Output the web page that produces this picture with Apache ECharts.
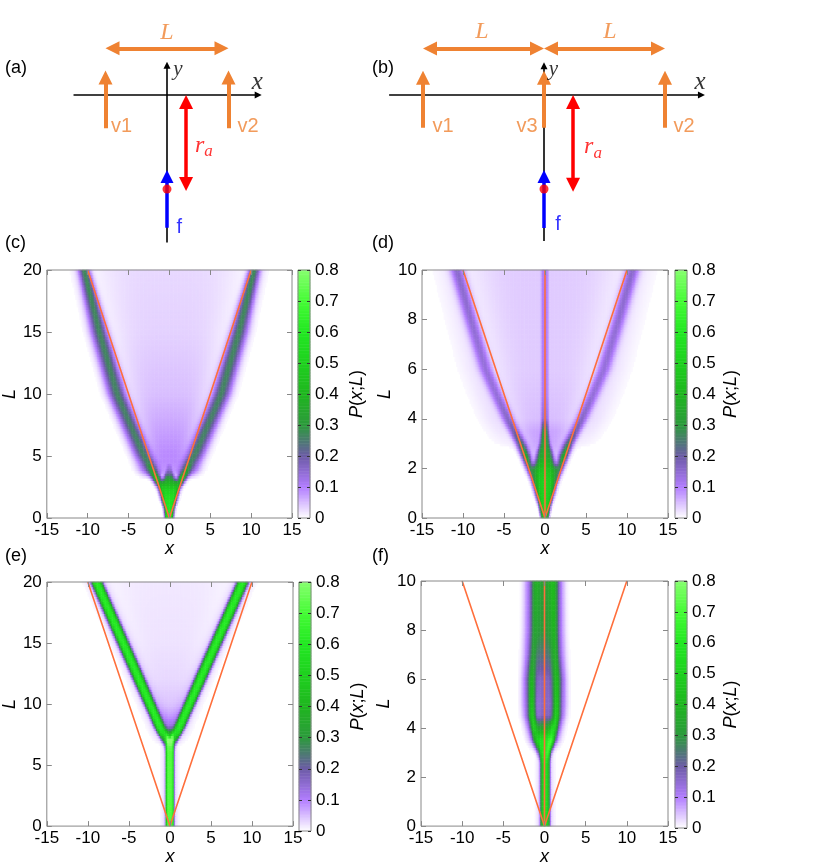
<!DOCTYPE html>
<html>
<head>
<meta charset="utf-8">
<title>P(x;L)</title>
<script src="https://cdn.jsdelivr.net/npm/echarts@6.0.0/dist/echarts.min.js"></script>
<style>
  html, body { margin: 0; padding: 0; background: #fff; }
  #chart { width: 830px; height: 867px; }
</style>
</head>
<body>
<div id="chart"></div>
<script type="text/javascript">
// ---- tick labels ----
var xTicks = [-15, -10, -5, 0, 5, 10, 15];
var barTicks = [0, 0.1, 0.2, 0.3, 0.4, 0.5, 0.6, 0.7, 0.8];
var barColors = ['#ffffff', '#b27dff', '#6c5ba6', '#2c9a3c', '#1fb61f', '#1fd01f', '#22e822', '#45fb35', '#86ff6e'];

// ---- panel (c): ridges, per L knot ----
var cL     = [0,   0.8, 1.5, 2.3, 2.8, 3.3, 3.8, 4.5, 5.2, 8,   10,  15,  20];
var cCoreW = [0.5, 0.6, 0.9, 1.1, 1.0, 0.7, 0.4, 0.2, 0.2, 0.2, 0.2, 0.2, 0.2];
var cCoreV = [0.6, 0.6, 0.58,0.5, 0.4, 0.25,0.08,0,   0,   0,   0,   0,   0];
var cArmX  = [0.2, 0.4, 0.7, 1.0, 1.3, 1.6, 2.0, 2.5, 3.1, 5.0, 6.3, 8.5, 10.4];
var cArmW  = [0.3, 0.3, 0.35,0.4, 0.45,0.55,0.7, 0.8, 0.85,0.9, 0.95,0.9, 0.65];
var cArmV  = [0,   0,   0,   0.12,0.35,0.42,0.3, 0.23,0.22,0.23,0.24,0.25,0.26];
var cShoX  = [0,   0,   0,   0,   0,   2.5, 3.0, 3.4, 3.9, 5.8, 7.1, 9.3, 11.1];
var cShoV  = [0,   0,   0,   0,   0,   0.03,0.09,0.09,0.08,0.05,0.04,0.03,0.02];
var cFillW = [0.1, 0.1, 0.1, 0.1, 0.1, 0.5, 1.4, 1.9, 2.4, 4.0, 5.1, 7.0, 8.9];
var cFillV = [0,   0,   0,   0,   0,   0.04,0.08,0.09,0.09,0.065,0.05,0.035,0.03];
var cLineX = [-10, 0, 10];
var cLineL = [20, 0, 20];

// ---- panel (d) ----
var dL     = [0,   0.5, 1,   1.5, 2,   2.5, 3,   3.5, 4,   5,   6,   8,   10];
var dCoreW = [0.45,0.7, 1.1, 1.3, 1.4, 1.0, 0.6, 0.45,0.45,0.45,0.45,0.45,0.45];
var dCoreV = [0.45,0.5, 0.5, 0.5, 0.45,0.3, 0.25,0.23,0.1, 0.07,0.07,0.07,0.07];
var dArmX  = [0.3, 0.5, 1.0, 1.4, 1.8, 2.3, 2.9, 3.7, 4.5, 5.9, 7.2, 9.0, 10.7];
var dArmW  = [0.3, 0.3, 0.35,0.4, 0.5, 0.55,0.6, 0.65,0.7, 0.75,0.8, 0.8, 0.8];
var dArmV  = [0,   0,   0,   0.1, 0.25,0.35,0.25,0.17,0.14,0.12,0.12,0.13,0.14];
var dHazeX = [0,   0,   0,   0,   0,   0,   4.2, 5.0, 5.8, 7.1, 8.3, 10.0,11.6];
var dHazeV = [0,   0,   0,   0,   0,   0,   0.012,0.02,0.024,0.022,0.02,0.017,0.015];
var dFillW = [0.1, 0.1, 0.1, 0.1, 0.1, 1.8, 2.4, 3.1, 3.8, 5.0, 6.1, 7.6, 9.1];
var dFillV = [0,   0,   0,   0,   0,   0.05,0.07,0.07,0.05,0.045,0.04,0.04,0.04];
var dLineX = [-10, 0, 10];
var dLineL = [10, 0, 10];
var dMidX  = [0, 0];
var dMidL  = [0, 10];

// ---- panel (e) ----
var eL     = [0,   6.0, 6.6, 7.1, 7.6, 8.2, 9,   10,  12,  15,  20];
var eColV  = [0.65,0.65,0.6, 0.45,0.15,0,   0,   0,   0,   0,   0];
var eColHV = [0.07,0.07,0.05,0,   0,   0,   0,   0,   0,   0,   0];
var eArmX  = [0.3, 0.3, 0.35,0.5, 0.85,1.25,1.75,2.4, 3.7, 5.65,8.9];
var eArmW  = [0.3, 0.3, 0.4, 0.5, 0.55,0.6, 0.6, 0.62,0.65,0.65,0.65];
var eArmV  = [0,   0,   0.1, 0.35,0.5, 0.55,0.55,0.55,0.55,0.55,0.55];
var eHaloV = [0,   0,   0,   0.04,0.06,0.06,0.06,0.06,0.06,0.06,0.06];
var eFillW = [0.1, 0.1, 0.1, 0.3, 0.6, 0.9, 1.4, 2.0, 3.1, 4.8, 7.6];
var eFillV = [0,   0,   0,   0.08,0.13,0.1, 0.07,0.045,0.03,0.022,0.018];
var eLineX = [-10, 0, 10];
var eLineL = [20, 0, 20];

// ---- panel (f) ----
var fL     = [0,   2.6, 3.0, 3.5, 4.0, 4.5, 5.0, 6.0, 7.0, 8.0, 10];
var fColW  = [0.55,0.55,0.6, 0.9, 0.95,1.05,1.15,1.2, 1.3, 1.4, 1.45];
var fColV  = [0.5, 0.5, 0.55,0.6, 0.35,0.17,0.16,0.17,0.24,0.3, 0.32];
var fColHV = [0.07,0.07,0.05,0,   0,   0,   0,   0,   0,   0,   0];
var fRidX  = [0.3, 0.3, 0.6, 1.0, 1.2, 1.45,1.5, 1.5, 1.4, 1.3, 1.2];
var fRidW  = [0.3, 0.3, 0.35,0.4, 0.45,0.45,0.45,0.5, 0.5, 0.5, 0.55];
var fRidV  = [0,   0,   0.15,0.35,0.45,0.45,0.42,0.36,0.25,0.18,0.16];
var fRimX  = [0.5, 0.5, 1.0, 1.5, 1.8, 2.1, 2.2, 2.2, 2.1, 2.0, 1.95];
var fRimV  = [0,   0,   0,   0.06,0.08,0.1, 0.1, 0.1, 0.08,0.08,0.08];
var fLineX = [-10, 0, 10];
var fLineL = [10, 0, 10];
var fMidX  = [0, 0];
var fMidL  = [0, 10];

// ---- sketches (a), (b): positions in units of L ----
var aVX = [-0.5, 0.5], aVNames = ['v1', 'v2'];
var aVY = [-0.27, 0.2];          // base, tip
var aSpans = [[-0.5, 0.5]], aSpanY = 0.38;
var aRa = [0.155, 0, -0.78];     // x, top, bottom
var aF = [0, -1.08, -0.61];      // x, tail, tip
var aDot = -0.765;
var aAxX = [-0.76, 0.77], aAxY = [-1.2, 0.27];

var bVX = [-1, 1, 0], bVNames = ['v1', 'v2', 'v3'];
var bVY = [-0.27, 0.2];
var bSpans = [[-1, 0], [0, 1]], bSpanY = 0.385;
var bRa = [0.24, 0, -0.8];
var bF = [0, -1.1, -0.62];
var bDot = -0.777;
var bAxX = [-1.28, 1.33], bAxY = [-1.21, 0.27];

var ORANGE = '#ef8232', LINE = '#ff6f3c';
var FONT = 'Liberation Sans, Arial, sans-serif';
var SERIF = 'Liberation Serif, Times New Roman, serif';

var NX = 180, NY = 100, NB = 160;
var xCats = [], yCats = [], barCats = [], barCells = [];
for (var i = 0; i < NX; i++) xCats.push('' + i);
for (var j = 0; j < NY; j++) yCats.push('' + j);
for (var k = 0; k < NB; k++) { barCats.push('' + k); barCells.push([0, k, (k + 0.5) * barTicks[barTicks.length - 1] / NB]); }

function at(arr, knots, L) {
    if (typeof arr === 'number') return arr;
    if (L <= knots[0]) return arr[0];
    for (var n = 1; n < knots.length; n++) {
        if (L <= knots[n]) {
            var t = (L - knots[n - 1]) / (knots[n] - knots[n - 1]);
            return arr[n - 1] + t * (arr[n] - arr[n - 1]);
        }
    }
    return arr[arr.length - 1];
}

// ridges: {x, w, v, p, m(mirror)}
function cells(knots, Lmax, ridges) {
    var out = [];
    for (var j = 0; j < NY; j++) {
        var L = (j + 0.5) * Lmax / NY;
        var rs = ridges.map(function (r) {
            return { x: at(r.x, knots, L), w: at(r.w, knots, L), v: at(r.v, knots, L), p: r.p, m: r.m };
        });
        for (var i = 0; i < NX; i++) {
            var x = -15 + (i + 0.5) * 30 / NX, s = 0;
            rs.forEach(function (r) {
                if (r.v <= 0) return;
                s += r.v * Math.exp(-Math.pow(Math.abs(x - r.x) / r.w, r.p));
                if (r.m) s += r.v * Math.exp(-Math.pow(Math.abs(x + r.x) / r.w, r.p));
            });
            if (s > 0.005) out.push([i, j, Math.min(s, 0.8)]);
        }
    }
    return out;
}

var cData = cells(cL, 20, [
    { x: 0, w: cCoreW, v: cCoreV, p: 4 },
    { x: cArmX, w: cArmW, v: cArmV, p: 2, m: true },
    { x: cShoX, w: 0.9, v: cShoV, p: 2, m: true },
    { x: 0, w: cFillW, v: cFillV, p: 4 }
]);
var dData = cells(dL, 10, [
    { x: 0, w: dCoreW, v: dCoreV, p: 4 },
    { x: dArmX, w: dArmW, v: dArmV, p: 2, m: true },
    { x: dHazeX, w: 2.0, v: dHazeV, p: 2, m: true },
    { x: 0, w: dFillW, v: dFillV, p: 4 }
]);
var eData = cells(eL, 20, [
    { x: 0.02, w: 0.5, v: eColV, p: 6 },
    { x: 0.02, w: 0.75, v: eColHV, p: 2 },
    { x: eArmX, w: eArmW, v: eArmV, p: 3, m: true },
    { x: eArmX, w: 1.1, v: eHaloV, p: 2, m: true },
    { x: 0, w: eFillW, v: eFillV, p: 4 }
]);
var fData = cells(fL, 10, [
    { x: 0.1, w: fColW, v: fColV, p: 4 },
    { x: 0.1, w: 0.8, v: fColHV, p: 2 },
    { x: fRidX, w: fRidW, v: fRidV, p: 2, m: true },
    { x: fRimX, w: 0.6, v: fRimV, p: 2, m: true }
]);

var option = { animation: false, backgroundColor: '#fff', grid: [], xAxis: [], yAxis: [], series: [], graphic: [], visualMap: [] };
var heatIdx = [];
function push(list, item) { option[list].push(item); return option[list].length - 1; }

function valueAxis(g, pos, ticks, labels, name, gap) {
    var a = {
        type: 'value', gridIndex: g, position: pos, z: 10,
        min: ticks[0], max: ticks[ticks.length - 1], interval: ticks[1] - ticks[0],
        axisLine: { show: false, onZero: false }, splitLine: { show: false },
        axisTick: { show: true, inside: true, length: 5, lineStyle: { color: '#888' } },
        axisLabel: { show: labels, color: '#000', fontSize: 17, fontFamily: FONT, margin: pos === 'bottom' ? 4 : 5 }
    };
    if (name) {
        a.name = name; a.nameLocation = 'middle'; a.nameGap = gap;
        a.nameTextStyle = { color: '#000', fontSize: 18, fontFamily: FONT, fontStyle: 'italic' };
    }
    return a;
}

function colorBar(left, top, height, gap) {
    var g = push('grid', { left: left, top: top, width: 12, height: height, show: true, z: 10, borderColor: '#888', borderWidth: 1, backgroundColor: 'transparent' });
    var xc = push('xAxis', { type: 'category', gridIndex: g, position: 'bottom', data: [''], show: false });
    var yc = push('yAxis', { type: 'category', gridIndex: g, position: 'left', data: barCats, show: false });
    var tick = { show: true, inside: true, length: 3, lineStyle: { color: '#333' } };
    push('yAxis', {
        type: 'value', gridIndex: g, position: 'right', z: 10, min: 0, max: 0.8, interval: 0.1,
        axisLine: { show: false, onZero: false }, splitLine: { show: false }, axisTick: tick,
        axisLabel: { color: '#000', fontSize: 17, fontFamily: FONT, margin: 5 },
        name: '{i|P}({i|x};{i|L})', nameLocation: 'middle', nameGap: gap,
        nameTextStyle: { color: '#000', fontSize: 18, fontFamily: FONT, rich: { i: { fontSize: 18, fontFamily: FONT, fontStyle: 'italic', color: '#000' } } }
    });
    push('yAxis', {
        type: 'value', gridIndex: g, position: 'left', z: 10, min: 0, max: 0.8, interval: 0.1,
        axisLine: { show: false, onZero: false }, splitLine: { show: false }, axisTick: tick, axisLabel: { show: false }
    });
    heatIdx.push(push('series', { type: 'heatmap', xAxisIndex: xc, yAxisIndex: yc, data: barCells, progressive: 0, silent: true }));
}

function heatPanel(box, barLeft, yTicks, data, lines, lGap, pGap) {
    var g = push('grid', { left: box[0], top: box[1], width: box[2], height: box[3], show: true, z: 10, borderColor: '#888', borderWidth: 1, backgroundColor: 'transparent' });
    var xc = push('xAxis', { type: 'category', gridIndex: g, position: 'bottom', data: xCats, show: false });
    var yc = push('yAxis', { type: 'category', gridIndex: g, position: 'left', data: yCats, show: false });
    var xv = push('xAxis', valueAxis(g, 'bottom', xTicks, true, 'x', 18));
    push('xAxis', valueAxis(g, 'top', xTicks, false));
    var yv = push('yAxis', valueAxis(g, 'left', yTicks, true, 'L', lGap));
    push('yAxis', valueAxis(g, 'right', yTicks, false));
    heatIdx.push(push('series', { type: 'heatmap', xAxisIndex: xc, yAxisIndex: yc, data: data, progressive: 0, silent: true }));
    lines.forEach(function (ln) {
        push('series', {
            type: 'line', xAxisIndex: xv, yAxisIndex: yv, silent: true, z: 5, symbol: 'none',
            data: ln[0].map(function (x, n) { return [x, ln[1][n]]; }),
            lineStyle: { color: LINE, width: 1.6 }
        });
    });
    colorBar(barLeft, box[1], box[3], pGap);
}

heatPanel([45, 270, 247, 248], 298, [0, 5, 10, 15, 20], cData, [[cLineX, cLineL]], 22, 38);
heatPanel([422, 270, 246, 248], 675, [0, 2, 4, 6, 8, 10], dData, [[dLineX, dLineL], [dMidX, dMidL]], 19, 35);
heatPanel([45, 582, 248, 249], 299, [0, 5, 10, 15, 20], eData, [[eLineX, eLineL]], 22, 38);
heatPanel([421, 581, 247, 247], 675, [0, 2, 4, 6, 8, 10], fData, [[fLineX, fLineL], [fMidX, fMidL]], 19, 35);

option.visualMap.push({ type: 'continuous', show: false, min: 0, max: 0.8, seriesIndex: heatIdx, inRange: { color: barColors } });

// ---- sketches ----
function sketchGrid(origin, scale, xr, yr) {
    var g = push('grid', { left: origin[0] + xr[0] * scale, top: origin[1] - yr[1] * scale, width: (xr[1] - xr[0]) * scale, height: (yr[1] - yr[0]) * scale, show: false });
    var xi = push('xAxis', { type: 'value', gridIndex: g, min: xr[0], max: xr[1], show: false });
    var yi = push('yAxis', { type: 'value', gridIndex: g, min: yr[0], max: yr[1], show: false });
    return { x: xi, y: yi, s: scale };
}

function arrow(d, from, to, color, width, head, both) {
    var dx = to[0] - from[0], dy = to[1] - from[1], len = Math.sqrt(dx * dx + dy * dy);
    var ux = dx / len, uy = dy / len, off = head / 2 / d.s;
    var a = both ? [from[0] + ux * off, from[1] + uy * off] : from;
    var b = head ? [to[0] - ux * off, to[1] - uy * off] : to;
    push('series', {
        type: 'lines', coordinateSystem: 'cartesian2d', xAxisIndex: d.x, yAxisIndex: d.y, silent: true, z: 4,
        symbol: [both ? 'triangle' : 'none', head ? 'triangle' : 'none'], symbolSize: head || 1,
        lineStyle: { color: color, width: width, opacity: 1, curveness: 0 },
        data: [{ coords: [a, b] }]
    });
}

var txt = {
    v: { color: ORANGE, fontSize: 20, fontFamily: FONT },
    L: { color: ORANGE, fontSize: 24, fontFamily: SERIF, fontStyle: 'italic' },
    x: { color: '#000', fontSize: 25, fontFamily: SERIF, fontStyle: 'italic' },
    y: { color: '#000', fontSize: 21, fontFamily: SERIF, fontStyle: 'italic' },
    f: { color: '#0000ff', fontSize: 20, fontFamily: FONT },
    ra: { rich: {
        r: { color: '#ff0000', fontSize: 24, fontFamily: SERIF, fontStyle: 'italic', verticalAlign: 'middle', lineHeight: 30 },
        s: { color: '#ff0000', fontSize: 17, fontFamily: SERIF, fontStyle: 'italic', verticalAlign: 'bottom', lineHeight: 30 } } }
};
function texts(d, items) {
    push('series', {
        type: 'scatter', xAxisIndex: d.x, yAxisIndex: d.y, silent: true, z: 6, symbolSize: 1,
        itemStyle: { color: 'rgba(0,0,0,0)' },
        data: items.map(function (t) {
            return { value: [t[0], t[1]], label: Object.assign({ show: true, position: 'inside', formatter: t[2] }, txt[t[3]]) };
        })
    });
}

function sketch(d, vx, vy, spans, spanY, ra, f, dot, axX, axY, labels) {
    arrow(d, [axX[0], 0], [axX[1], 0], '#000', 1.6, 7, false);
    arrow(d, [0, axY[0]], [0, axY[1]], '#000', 1.6, 7, false);
    vx.forEach(function (x) { arrow(d, [x, vy[0]], [x, vy[1]], ORANGE, 4, 14, false); });
    spans.forEach(function (s) { arrow(d, [s[0], spanY], [s[1], spanY], ORANGE, 4, 14, true); });
    arrow(d, [ra[0], ra[1]], [ra[0], ra[2]], '#ff0000', 3.5, 14, true);
    arrow(d, [f[0], f[1]], [f[0], f[2]], '#0000ff', 3.5, 13, false);
    push('series', { type: 'scatter', xAxisIndex: d.x, yAxisIndex: d.y, silent: true, z: 7, symbolSize: 9, itemStyle: { color: '#ff0000' }, data: [[0, dot]] });
    texts(d, labels);
}

var da = sketchGrid([167, 95], 123, [-0.8, 0.8], [-1.2, 0.6]);
sketch(da, aVX, aVY, aSpans, aSpanY, aRa, aF, aDot, aAxX, aAxY, [
    [-0.37, -0.26, aVNames[0], 'v'], [0.66, -0.26, aVNames[1], 'v'],
    [0, 0.505, 'L', 'L'], [0.735, 0.105, 'x', 'x'], [0.088, 0.21, 'y', 'y'],
    [0.3, -0.41, '{r|r}{s|a}', 'ra'], [0.1, -1.075, 'f', 'f']
]);
var db = sketchGrid([544, 95], 121, [-1.5, 1.5], [-1.2, 0.6]);
sketch(db, bVX, bVY, bSpans, bSpanY, bRa, bF, bDot, bAxX, bAxY, [
    [-0.835, -0.264, bVNames[0], 'v'], [1.157, -0.264, bVNames[1], 'v'], [-0.14, -0.264, bVNames[2], 'v'],
    [-0.512, 0.52, 'L', 'L'], [0.545, 0.52, 'L', 'L'], [1.29, 0.107, 'x', 'x'], [0.078, 0.215, 'y', 'y'],
    [0.405, -0.43, '{r|r}{s|a}', 'ra'], [0.116, -1.07, 'f', 'f']
]);

// panel letters
[['(a)', 5, 68], ['(b)', 372, 68], ['(c)', 5, 243], ['(d)', 372, 243], ['(e)', 5, 556], ['(f)', 372, 556]].forEach(function (p) {
    option.graphic.push({ type: 'text', silent: true, style: { text: p[0], x: p[1], y: p[2], verticalAlign: 'middle', fontSize: 18, fontFamily: FONT, fill: '#000' } });
});

var myChart = echarts.init(document.getElementById('chart'));
myChart.setOption(option);
</script>
</body>
</html>
